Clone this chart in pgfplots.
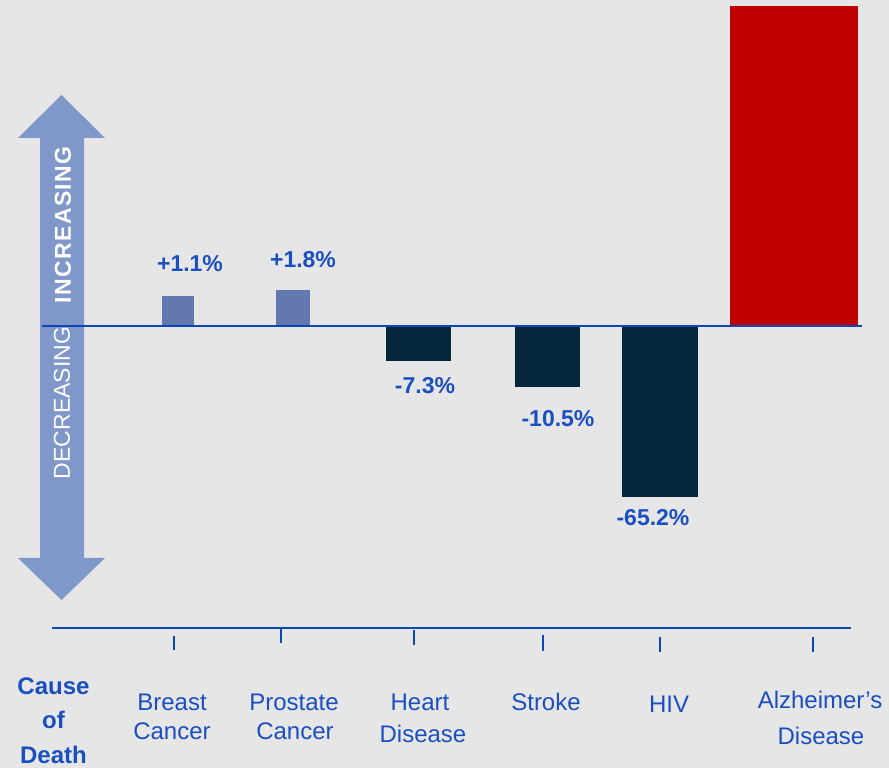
\documentclass[border=0pt]{standalone}
\usepackage{pgfplots}
\pgfplotsset{compat=1.18}
\usepackage{fontspec}
\setmainfont{Liberation Sans}
\definecolor{bg}{HTML}{E6E6E6}
\definecolor{arrowc}{HTML}{7F97C9}
\definecolor{lightbar}{HTML}{6478B0}
\definecolor{darkbar}{HTML}{06263B}
\definecolor{redbar}{HTML}{C00000}
\definecolor{linec}{HTML}{0A48B8}
\definecolor{txtc}{HTML}{1A4FC0}
\begin{document}
\begin{tikzpicture}
\begin{axis}[
  x=0.75pt, y=0.75pt,
  xmin=0, xmax=889, ymin=-442, ymax=326,
  axis lines=none, ticks=none, clip=false,
  axis background/.style={fill=bg},
]
% double arrow
\fill[arrowc] (axis cs:61.5,231) -- (axis cs:105,188) -- (axis cs:84,188) -- (axis cs:84,-232)
  -- (axis cs:105,-232) -- (axis cs:61.5,-274) -- (axis cs:18,-232) -- (axis cs:40,-232)
  -- (axis cs:40,188) -- (axis cs:18,188) -- cycle;
\node[rotate=90, text=white, font=\fontsize{17.25}{20}\selectfont\bfseries\addfontfeature{LetterSpace=6}, anchor=center]
  at (axis cs:63,101) {INCREASING};
\node[rotate=90, text=white, font=\fontsize{17.25}{20}\selectfont, anchor=center]
  at (axis cs:62,-77) {DECREASING};
% bars (visual heights in pixels relative to the zero line)
\addplot[ybar, bar shift=0pt, bar width=32, fill=lightbar, draw=none] coordinates {(178,30)};
\addplot[ybar, bar shift=0pt, bar width=34, fill=lightbar, draw=none] coordinates {(293,36)};
\addplot[ybar, bar shift=0pt, bar width=65, fill=darkbar, draw=none] coordinates {(418.5,-35)};
\addplot[ybar, bar shift=0pt, bar width=65, fill=darkbar, draw=none] coordinates {(547.5,-61)};
\addplot[ybar, bar shift=0pt, bar width=76, fill=darkbar, draw=none] coordinates {(660,-171)};
\addplot[ybar, bar shift=0pt, bar width=128, fill=redbar, draw=none] coordinates {(794,320)};
% zero line
\draw[linec, line width=1.6pt] (axis cs:42,0) -- (axis cs:862,0);
% bottom axis line and ticks
\draw[linec, line width=1.5pt] (axis cs:52,-302) -- (axis cs:851,-302);
\draw[linec, line width=1.1pt] (axis cs:174,-310) -- (axis cs:174,-324);
\draw[linec, line width=1.1pt] (axis cs:281,-301) -- (axis cs:281,-317);
\draw[linec, line width=1.1pt] (axis cs:414,-304) -- (axis cs:414,-319);
\draw[linec, line width=1.1pt] (axis cs:543,-309) -- (axis cs:543,-325);
\draw[linec, line width=1.1pt] (axis cs:660,-311) -- (axis cs:660,-326);
\draw[linec, line width=1.1pt] (axis cs:813,-311) -- (axis cs:813,-326);
% value labels
\begin{scope}[every node/.style={text=txtc, font=\fontsize{17.25}{20}\selectfont\bfseries, anchor=base}]
\node at (axis cs:190,54) {+1.1\%};
\node at (axis cs:303,58) {+1.8\%};
\node at (axis cs:425,-68) {-7.3\%};
\node at (axis cs:558,-101) {-10.5\%};
\node at (axis cs:653,-200) {-65.2\%};
\end{scope}
% category labels
\begin{scope}[every node/.style={text=txtc, font=\fontsize{18}{21.5}\selectfont, anchor=base}]
\node at (axis cs:172,-384.7) {Breast};
\node at (axis cs:172,-413.3) {Cancer};
\node at (axis cs:294,-384.7) {Prostate};
\node at (axis cs:295,-413.3) {Cancer};
\node at (axis cs:420,-384) {Heart};
\node at (axis cs:423,-416) {Disease};
\node at (axis cs:546,-384) {Stroke};
\node at (axis cs:669,-386) {HIV};
\node at (axis cs:820,-382) {Alzheimer’s};
\node at (axis cs:821,-418) {Disease};
\end{scope}
\begin{scope}[every node/.style={text=txtc, font=\fontsize{18}{21.5}\selectfont\bfseries, anchor=base}]
\node at (axis cs:53.5,-368) {Cause};
\node at (axis cs:53.5,-402) {of};
\node at (axis cs:53.5,-437) {Death};
\end{scope}
\end{axis}
\end{tikzpicture}
\end{document}
